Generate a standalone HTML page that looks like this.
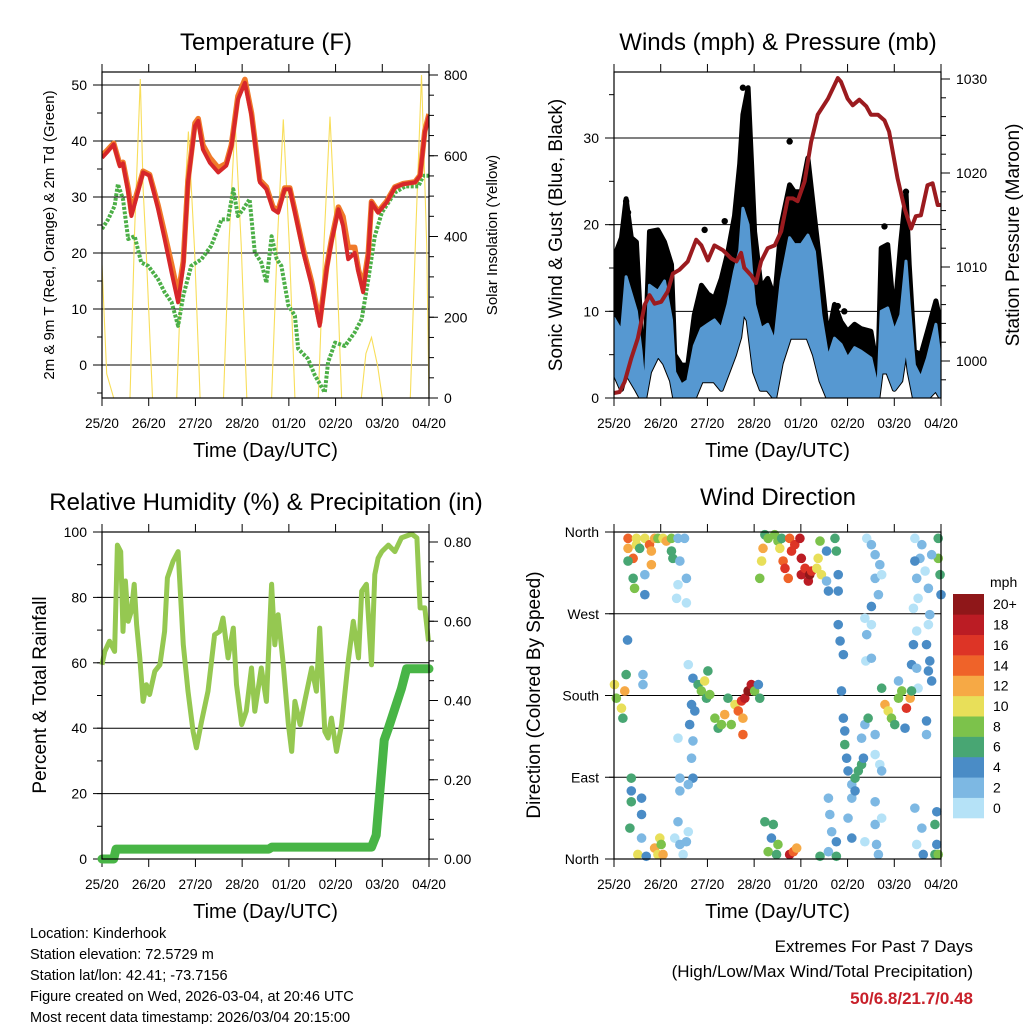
<!DOCTYPE html>
<html><head><meta charset="utf-8"><title>Kinderhook Meteogram</title>
<style>
html,body{margin:0;padding:0;background:#fff;}
svg{display:block;font-family:"Liberation Sans",Arial,sans-serif;}
</style></head>
<body>
<svg id="chart" width="1024" height="1024" viewBox="0 0 1024 1024" xmlns="http://www.w3.org/2000/svg">
<rect x="0" y="0" width="1024" height="1024" fill="#fff"/>
</svg>
<script>
// ---------- DATA ----------
const dayLabels = ["25/20","26/20","27/20","28/20","01/20","02/20","03/20","04/20"];
const tempT = [0,.13,.25,.38,.45,.56,.63,.74,.88,1.02,1.2,1.34,1.49,1.63,1.74,1.84,1.99,2.06,2.16,2.31,2.49,2.66,2.77,2.91,3.06,3.2,3.38,3.52,3.66,3.77,3.91,4.02,4.13,4.31,4.49,4.66,4.81,4.91,5.06,5.16,5.27,5.41,5.49,5.59,5.7,5.77,5.91,6.09,6.27,6.45,6.7,6.81,6.91,7.0];
const temp2m = [37,38.2,39.4,35.5,36,30.8,26.6,30,34.4,33.8,27.8,22.5,16.5,11.2,17.7,32.6,42.7,43.6,38.5,36.1,34.4,35.6,39,47.4,50.4,44.5,32.6,31.4,27.8,27.2,31.4,31.4,27.2,20.1,14.2,7,17.1,21.9,27.8,24.9,18.9,20,16.5,13,19.5,29,27.2,29,31.7,32.3,32.6,33.8,41.5,44.5];
const temp9m = [37.4,38.5,39.6,35.8,36.2,31.5,27.2,30.5,34.6,34,28.5,23.5,18,12.5,18.5,33,43.2,44,39.3,37,35.2,36,39.3,48,51,45,33,31.8,28.2,27.6,31.6,31.6,27.6,20.6,14.8,7.6,17.5,22.3,28.2,26.5,21,21,17,14,20,29.2,27.4,29.2,31.8,32.4,32.7,33.9,41.8,44.8];
const dewT = [0,.13,.27,.34,.45,.56,.7,.84,.99,1.2,1.34,1.49,1.63,1.74,1.91,2.13,2.34,2.56,2.7,2.81,2.91,3.02,3.16,3.27,3.41,3.52,3.63,3.74,3.84,3.99,4.13,4.2,4.41,4.56,4.77,4.84,4.99,5.2,5.41,5.56,5.7,5.84,5.99,6.13,6.27,6.49,6.77,6.88,7];
const dewV = [24.3,26,28.4,32.3,29.6,22.5,23,18.3,17.7,15.3,13,11.2,7,12.4,17.7,18.9,21.3,26,26,31.4,26.6,27.8,29.6,20.1,18.3,14.7,23,18.9,17.7,10.6,8.8,2.9,1.1,-1.9,-4.9,0.5,4,3.4,5.8,8.2,15.3,23,27.2,29,30.8,31.9,31.9,33.8,33.8];
const solarT = [0,0.1,0.25, 0.6,0.7,0.82,0.88,0.94,1.08, 1.6,1.72,1.85,1.98,2.1, 2.6,2.72,2.85,2.98,3.1, 3.63,3.75,3.88,4.01,4.13, 4.63,4.75,4.88,5.01,5.13, 5.55,5.65,5.77,5.9,6.0, 6.6,6.72,6.84,6.95,7.0];
const solarV = [330,60,0, 0,420,790,520,380,0, 0,380,660,370,0, 0,390,685,380,0, 0,380,690,380,0, 0,380,697,380,0, 0,110,150,80,0, 0,420,800,380,0];
const windT = [0,.16,.26,.37,.48,.58,.66,.76,.94,1.08,1.23,1.3,1.44,1.58,1.72,1.87,2.01,2.15,2.3,2.44,2.58,2.69,2.76,2.87,2.94,3.01,3.15,3.29,3.44,3.58,3.76,3.86,4.01,4.15,4.29,4.43,4.58,4.72,4.86,5,5.15,5.29,5.5,5.65,5.72,5.86,6,6.14,6.25,6.32,6.43,6.57,6.71,6.89,7];
const gustMax = [16.2,18.5,23,18.5,18,7.7,3.8,19.2,19.4,18,15.4,5,3.8,3.8,9.6,13,12,11.5,13.8,16.9,21,27,32.7,35.8,27.7,19.2,12.7,13.8,11.5,20,24.6,23.8,23.8,27.7,21,14.6,6.9,10.8,8.8,7.7,8.5,8,7.7,3,17.3,17.7,9.2,18,23.8,15.4,5.4,5,7.7,11.2,8.5];
const windHi = [9.2,7.7,14,12,10,5.4,0.5,13,12.3,13.5,9,3,1.5,2,6,8,8.5,9,8,10.8,14.6,17,21.9,20,15,10.8,8,8.5,6.5,13.5,18.5,17.7,17.7,18.8,16.9,9.6,4.6,6.9,6.2,4.6,5.8,5.4,4.6,1,10,10.4,7.7,9.6,15.8,10.8,3.8,2.3,4.6,8.5,3.8];
const windLo = [3,1,3,2,1,0,0,3,5,4,2,0,0,0,0,2,2,2,1,3,5,7,10,9,6,3,1,1,0,4,7,7,7,7,5,2,0,0,0,0,0,0,0,0,3,3,1,2,6,3,0,0,0,1,0];
const gustDotT = [.26,.3,.23,2.76,2.87,2.8,3.76,2.37,1.94,6.25,5.79,4.79,4.93];
const gustDotV = [22.7,21.4,20.8,35.8,33.3,32.7,29.6,20.4,19.4,23.8,19.8,10.6,10];
const presT = [0,.12,.23,.37,.51,.66,.76,.87,1.01,1.15,1.26,1.4,1.58,1.76,1.87,2.01,2.15,2.33,2.51,2.62,2.72,2.79,2.94,3.04,3.15,3.29,3.44,3.58,3.72,3.83,3.93,4.08,4.22,4.36,4.58,4.79,4.86,5,5.11,5.25,5.4,5.5,5.65,5.79,5.89,6.07,6.22,6.36,6.46,6.57,6.71,6.82,6.93,7];
const presV = [996.6,996.7,997.8,1000.3,1002.4,1006,1007,1006.1,1006.3,1007.4,1009.3,1009.7,1010.6,1012.9,1012.3,1010.7,1012.3,1011.8,1010.9,1010.6,1011.5,1009.9,1009.1,1008.3,1010.6,1012,1012.3,1013.8,1017.3,1017.3,1017,1019.1,1023.3,1026.2,1027.9,1030.1,1029.7,1027.9,1027.2,1027.8,1027.1,1026.2,1026.2,1025.6,1024.4,1019.4,1016.2,1014.1,1015.4,1015.5,1018.7,1018.9,1016.6,1016.6];
const rhT = [0,.06,.16,.27,.33,.4,.45,.5,.56,.63,.69,.74,.81,.88,.95,1.02,1.13,1.24,1.34,1.4,1.52,1.63,1.74,1.84,1.95,2.02,2.13,2.27,2.41,2.52,2.59,2.7,2.81,2.88,2.99,3.09,3.2,3.27,3.41,3.52,3.63,3.7,3.77,3.88,3.99,4.06,4.13,4.24,4.34,4.49,4.59,4.66,4.77,4.84,4.91,5.02,5.13,5.27,5.38,5.49,5.56,5.66,5.77,5.84,5.91,5.99,6.13,6.27,6.41,6.63,6.74,6.81,6.91,6.99];
const rhV = [59.4,63.5,66.6,63.5,96,94,69.6,85,72.7,75.8,84,71.7,61.5,48.2,53.3,50.3,57.4,59.4,69.6,86,91,94,65.5,51.3,39,34,42,51.3,68.6,69.6,73.7,61.5,70.6,53.3,41.1,45.2,58.4,45.2,58.4,48.2,84,65.5,74.7,59.4,41.1,32.9,48.2,41.1,48.2,58.4,51.3,70.6,39,37,43.1,32.9,41.1,60.4,72.7,61.5,81.9,84,59.4,87,92,94,96,94,98.2,99.4,98.2,76.8,76.8,66.6];
const prT = [0,0.25,0.3,3.57,3.64,5.77,5.87,6.04,6.13,6.27,6.41,6.52,7.0];
const prV = [0,0,0.025,0.025,0.03,0.03,0.06,0.3,0.33,0.38,0.43,0.48,0.48];
const dirT = [.30,.30,.48,.48,.55,.41,.30,.41,.44,.66,.76,.80,.80,.87,.94,1.05,1.12,1.23,1.23,1.26,1.37,1.41,1.51,.66,.66,1.37,1.55,1.34,1.55,
3.23,3.30,3.19,3.16,3.12,3.44,3.51,3.55,3.59,3.62,3.66,3.73,3.76,3.80,3.87,3.98,4.01,4.01,4.09,4.16,4.19,4.23,4.34,4.37,4.41,4.44,4.55,4.55,4.59,4.73,4.76,4.80,4.80,
5.41,5.51,5.59,5.69,5.59,5.73,5.66,5.51,6.44,6.59,6.55,6.66,6.44,6.48,6.73,6.51,6.41,6.94,6.94,6.98,7.0,6.80,
4.80,4.84,4.91,5.37,5.51,5.41,5.39,5.51,6.76,6.73,6.41,6.48,6.69,6.76,6.37,6.48,6.51,6.73,6.80,.29,
.01,.05,.16,.23,.19,.26,.62,.62,
1.59,1.69,1.80,1.87,1.94,2.01,1.98,2.05,1.66,1.73,1.62,1.69,1.66,1.69,1.59,1.41,1.41,1.37,2.16,2.23,2.30,2.37,2.44,2.51,2.59,2.66,2.73,2.80,2.87,2.94,2.76,2.76,3.01,3.09,3.12,
4.87,4.91,4.94,4.94,4.98,5.01,5.09,5.16,5.23,5.30,5.34,5.30,5.37,5.44,5.59,5.59,5.69,5.73,5.80,5.87,5.94,6.01,6.09,6.16,6.26,6.34,6.37,6.23,6.09,5.73,6.69,6.69,
.37,.37,.37,.34,.59,.59,.59,.51,.69,.87,.94,.98,1.01,1.05,1.30,1.37,1.41,1.48,1.55,1.59,3.23,3.41,3.37,3.30,3.48,3.51,3.76,3.84,3.91,4.59,4.62,4.66,4.59,4.76,4.76,4.41,5.09,5.37,5.59,5.59,5.62,5.66,5.73,6.44,6.48,6.59,6.62,6.87,6.91,6.87,6.91,6.94,5.01,5.09,5.16];
const dirDeg = [353,342,353,346,342,331,328,309,298,353,346,339,324,353,353,353,350,353,339,331,353,328,353,291,313,302,309,287,282,
357,353,342,328,309,357,350,342,353,328,320,309,353,339,346,353,331,313,320,306,313,317,320,331,350,313,339,306,295,353,339,313,295,
353,346,335,324,309,313,291,278,353,346,331,317,328,309,298,287,276,353,331,313,291,335,
258,240,225,265,258,247,218,221,269,258,236,251,236,218,214,210,188,207,196,241,
192,177,166,185,155,203,203,192,
214,199,192,185,196,207,177,181,170,163,148,130,111,89,82,89,75,133,155,144,148,159,177,148,170,163,174,177,185,192,155,137,185,192,177,
185,155,141,126,111,97,82,89,97,104,111,133,148,155,137,115,104,97,170,163,155,148,177,185,166,177,185,144,196,188,152,137,
89,75,63,34,67,49,23,5,3,12,5,23,16,5,23,41,16,5,19,30,41,38,23,8,5,16,5,8,12,67,49,30,8,19,3,3,23,19,63,38,16,5,45,56,16,34,5,38,16,5,52,5,45,67,75];
const dirSpd = [14,12,10,10,6,14,6,6,8,10,14,12,13,12,8,10,12,8,6,6,2,2,2,4,2,1,2,1,1,
6,8,12,10,8,8,8,10,6,14,16,14,14,16,16,18,18,18,16,18,20,16,10,10,8,10,4,2,4,6,6,4,4,
1,2,2,2,2,1,2,4,1,2,2,1,4,2,2,1,1,6,8,6,4,2,
4,4,4,1,1,2,1,2,2,1,4,1,4,4,4,2,1,4,4,4,
10,8,10,12,6,6,2,2,
1,4,6,8,10,6,6,8,4,4,4,2,2,4,2,2,2,1,8,6,8,12,6,8,10,14,16,18,20,18,12,14,8,4,6,
4,4,4,6,4,4,2,6,6,6,4,2,2,6,2,1,1,2,12,10,8,6,8,8,16,12,6,4,2,6,4,2,
6,4,6,6,4,4,2,10,4,12,10,10,8,12,1,2,2,1,2,1,6,6,4,8,6,8,18,14,12,2,2,2,2,4,6,6,4,1,2,2,2,2,1,2,1,2,4,6,4,6,4,8,2,2,4];
const speedColors = ["#b5e2f7","#7db8e3","#4a8cc6","#48a673","#7cc24b","#e8df59","#f6a945","#ef6329","#dd3426","#bb1c24","#8f1719"];
const speedLabels = ["0","2","4","6","8","10","12","14","16","18","20+"];
const tempTicks=[0,10,20,30,40,50], solarTicks=[0,200,400,600,800];
const windTicks=[0,10,20,30], presTicks=[1000,1010,1020,1030];
const rhTicks=[0,20,40,60,80,100], prTicks=[0,0.2,0.4,0.6,0.8];
const dirTicks=[0,90,180,270,360], dirLabels=["North","East","South","West","North"];

// ---------- HELPERS ----------
const NS="http://www.w3.org/2000/svg";
const svg=document.getElementById('chart');
function mk(tag,attrs,parent){const e=document.createElementNS(NS,tag);for(const k in attrs)e.setAttribute(k,attrs[k]);(parent||svg).appendChild(e);return e;}
function txt(s,x,y,size,anchor,parent,extra){const e=mk('text',Object.assign({x:x,y:y,'font-size':size,'text-anchor':anchor||'middle',fill:'#000'},extra||{}),parent);e.textContent=s;return e;}
function pathD(ts,vs,fx,fy){let d='';for(let i=0;i<ts.length;i++){d+=(i?'L':'M')+fx(ts[i]).toFixed(1)+','+fy(vs[i]).toFixed(1);}return d;}
function scaleLin(d0,d1,r0,r1){return v=>r0+(v-d0)/(d1-d0)*(r1-r0);}

const P1={x0:102,x1:429,y0:72,y1:398}, P2={x0:614,x1:941,y0:72,y1:398};
const P3={x0:102,x1:429,y0:532,y1:859}, P4={x0:614,x1:941,y0:532,y1:859};

function panelAxes(P,g){
  const fx=scaleLin(0,7,P.x0,P.x1);
  for(let i=0;i<dayLabels.length;i++){
    const x=fx(i);
    const t1=mk('line',{x1:x,y1:P.y1,x2:x,y2:P.y1+8,stroke:'#000','stroke-width':1},g);
    
    
    const t2=mk('line',{x1:x,y1:P.y0,x2:x,y2:P.y0-8,stroke:'#000','stroke-width':1},g);
    
    
    const l=txt(dayLabels[i],x,P.y1+30,13.5,'middle',g);
    
    
  }
  const xt=txt('Time (Day/UTC)',(P.x0+P.x1)/2,P.y1+59,20,'middle',g);
  
  
  return fx;
}
function frame(P,g){
  const r=mk('rect',{x:P.x0,y:P.y0,width:P.x1-P.x0,height:P.y1-P.y0,fill:'none',stroke:'#000','stroke-width':1.2},g);
  
  
}
function yTicks(P,g,vals,fy,fmt,side,minorStep,minorFrom,minorTo,grid,name){
  for(let v=minorFrom;v<=minorTo+1e-9;v+=minorStep){
    const y=fy(v); if(y<P.y0-0.5||y>P.y1+0.5)continue;
    const x=side==='left'?P.x0:P.x1, dx=side==='left'?-5:5;
    const m=mk('line',{x1:x,y1:y,x2:x+dx,y2:y,stroke:'#000','stroke-width':1},g);
    
    
  }
  vals.forEach((v,i)=>{
    const y=fy(v);
    const x=side==='left'?P.x0:P.x1, dx=side==='left'?-9:9;
    const t=mk('line',{x1:x,y1:y,x2:x+dx,y2:y,stroke:'#000','stroke-width':1},g);
    
    
    if(grid && y>P.y0+2 && y<P.y1-2){
      const gl=mk('line',{x1:P.x0,y1:y,x2:P.x1,y2:y,stroke:'#000','stroke-width':1},g);
      
      
    }
    const lbl=txt(fmt(v,i),side==='left'?P.x0-15:P.x1+15,y+5,14,side==='left'?'end':'start',g);
    
    
  });
}
function rotTitle(s,x,y,size,g,name){
  const t=txt(s,x,y,size,'middle',g,{transform:'rotate(-90 '+x+' '+y+')'});
  
  
}

// ---------- PANEL 1 ----------
(function(){
  const g=mk('g',{});
  
  
  const fx=panelAxes(P1,g);
  const fyT=scaleLin(0,50,365,85), fyS=scaleLin(0,800,398,75);
  yTicks(P1,g,tempTicks,fyT,v=>String(v),'left',5,-5,50,true,'temp-axis');
  yTicks(P1,g,solarTicks,fyS,v=>String(v),'right',50,0,800,false,'solar-axis');
  const clip=mk('clipPath',{id:'c1'},g); mk('rect',{x:P1.x0,y:P1.y0,width:P1.x1-P1.x0,height:P1.y1-P1.y0},clip);
  const pg=mk('g',{'clip-path':'url(#c1)'},g);
  const s=mk('path',{d:pathD(solarT,solarV,fx,fyS),fill:'none',stroke:'#f8de5a','stroke-width':1.1},pg);
  
  
  const d=mk('path',{d:pathD(dewT,dewV,fx,fyT),fill:'none',stroke:'#4caf47','stroke-width':4,'stroke-dasharray':'3 1.5','stroke-linejoin':'round'},pg);
  
  
  const o=mk('path',{d:pathD(tempT,temp9m,fx,fyT),fill:'none',stroke:'#f07a2a','stroke-width':5.5,'stroke-linejoin':'round'},pg);
  
  
  const r=mk('path',{d:pathD(tempT,temp2m,fx,fyT),fill:'none',stroke:'#d7272a','stroke-width':4,'stroke-linejoin':'round'},pg);
  
  
  frame(P1,g);
  const t=txt('Temperature (F)',266,50,24,'middle',g);
  
  
  rotTitle('2m & 9m T (Red, Orange) & 2m Td (Green)',54,235,15,g,'temperature-y-axis-title');
  rotTitle('Solar Insolation (Yellow)',497,235,15,g,'solar-y-axis-title');
})();

// ---------- PANEL 2 ----------
(function(){
  const g=mk('g',{});
  
  
  const fx=panelAxes(P2,g);
  const fyW=scaleLin(0,30,398,138), fyP=scaleLin(1000,1030,361,79);
  yTicks(P2,g,windTicks,fyW,v=>String(v),'left',5,0,35,true,'wind-axis');
  yTicks(P2,g,presTicks,fyP,v=>String(v),'right',2,996,1032,false,'pressure-axis');
  const clip=mk('clipPath',{id:'c2'},g); mk('rect',{x:P2.x0,y:P2.y0-4,width:P2.x1-P2.x0,height:P2.y1-P2.y0+4},clip);
  const pg=mk('g',{'clip-path':'url(#c2)'},g);
  let gd=pathD(windT,gustMax,fx,fyW);
  for(let i=windT.length-1;i>=0;i--)gd+='L'+fx(windT[i]).toFixed(1)+','+fyW(windLo[i]).toFixed(1);
  const gb=mk('path',{d:gd+'Z',fill:'#000',stroke:'#000','stroke-width':5,'stroke-linejoin':'round'},pg);
  
  
  gustDotT.forEach((t,i)=>{
    const c=mk('circle',{cx:fx(t),cy:fyW(gustDotV[i]),r:3.2,fill:'#000'},pg);
    
    
  });
  let bd=pathD(windT,windHi,fx,fyW);
  for(let i=windT.length-1;i>=0;i--)bd+='L'+fx(windT[i]).toFixed(1)+','+fyW(windLo[i]).toFixed(1);
  const bb=mk('path',{d:bd+'Z',fill:'#5698d1',stroke:'#5698d1','stroke-width':3,'stroke-linejoin':'round'},pg);
  
  
  const p=mk('path',{d:pathD(presT,presV,fx,fyP),fill:'none',stroke:'#9b1b1f','stroke-width':4,'stroke-linejoin':'round'},pg);
  
  
  frame(P2,g);
  const t=txt('Winds (mph) & Pressure (mb)',778,50,24,'middle',g);
  
  
  rotTitle('Sonic Wind & Gust (Blue, Black)',562,235,19,g,'wind-y-axis-title');
  rotTitle('Station Pressure (Maroon)',1019,235,19,g,'pressure-y-axis-title');
})();

// ---------- PANEL 3 ----------
(function(){
  const g=mk('g',{});
  
  
  const fx=panelAxes(P3,g);
  const fyR=scaleLin(0,100,859,532), fyPr=scaleLin(0,0.8,859,542);
  yTicks(P3,g,rhTicks,fyR,v=>String(v),'left',10,0,100,true,'rh-axis');
  yTicks(P3,g,prTicks,fyPr,v=>v.toFixed(2),'right',0.05,0,0.8,false,'precip-axis');
  const r=mk('path',{d:pathD(rhT,rhV,fx,fyR),fill:'none',stroke:'#95c851','stroke-width':5,'stroke-linejoin':'round'},g);
  
  
  const p=mk('path',{d:pathD(prT,prV,fx,fyPr),fill:'none',stroke:'#48b546','stroke-width':9,'stroke-linejoin':'round','stroke-linecap':'round'},g);
  
  
  frame(P3,g);
  const t=txt('Relative Humidity (%) & Precipitation (in)',266,510,24,'middle',g);
  
  
  rotTitle('Percent & Total Rainfall',46,695,19,g,'rh-y-axis-title');
})();

// ---------- PANEL 4 ----------
(function(){
  const g=mk('g',{});
  
  
  const fx=panelAxes(P4,g);
  const fyD=scaleLin(0,360,859,532);
  yTicks(P4,g,dirTicks,fyD,(v,i)=>dirLabels[i],'left',90,0,360,true,'direction-axis');
  dirT.forEach((t,i)=>{
    const ci=Math.min(10,Math.floor(dirSpd[i]/2));
    const c=mk('circle',{cx:fx(t),cy:fyD(dirDeg[i]),r:4.8,fill:speedColors[ci]},g);
    
    
  });
  frame(P4,g);
  const t=txt('Wind Direction',778,505,24,'middle',g);
  
  
  rotTitle('Direction (Colored By Speed)',540,695,19,g,'direction-y-axis-title');
  const cb=mk('g',{},g);
  
  
  const top=594,bot=818,h=(bot-top)/speedColors.length;
  for(let k=0;k<speedColors.length;k++){
    const y=bot-(k+1)*h;
    const r=mk('rect',{x:953,y:y,width:31,height:h+0.3,fill:speedColors[k]},cb);
    
    
    const l=txt(speedLabels[k],993,y+h/2+5,14,'start',cb);
    
    
  }
  const u=txt('mph',990,587,14,'start',cb);
  
  
})();

// ---------- FOOTER ----------
(function(){
  const g=mk('g',{});
  
  
  const lines=["Location: Kinderhook","Station elevation: 72.5729 m","Station lat/lon: 42.41; -73.7156","Figure created on Wed, 2026-03-04, at 20:46 UTC","Most recent data timestamp: 2026/03/04 20:15:00"];
  lines.forEach((s,i)=>{
    const t=txt(s,30,938+i*21,14.5,'start',g);
    
    
  });
  const g2=mk('g',{});
  
  
  const a=txt('Extremes For Past 7 Days',973,952,17,'end',g2);
  
  
  const b=txt('(High/Low/Max Wind/Total Precipitation)',973,977,17,'end',g2);
  
  
  const c=txt('50/6.8/21.7/0.48',973,1004,17,'end',g2,{fill:'#c8202a','font-weight':'bold'});
  
  
})();
</script>
</body></html>
